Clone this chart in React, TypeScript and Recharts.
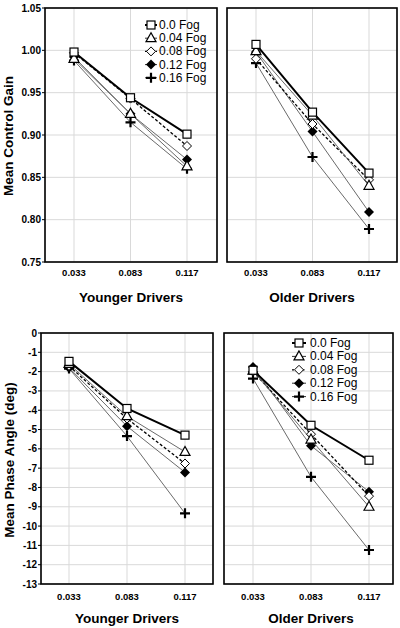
import { LineChart, Line, XAxis, YAxis, CartesianGrid } from "recharts";

const speeds = ["0.033", "0.083", "0.117"];
const fogLevels = ["0.0 Fog", "0.04 Fog", "0.08 Fog", "0.12 Fog", "0.16 Fog"];

// rows follow fogLevels, columns follow speeds
const youngerGain = [
  [0.998, 0.944, 0.901],
  [0.99, 0.925, 0.863],
  [0.997, 0.943, 0.887],
  [0.992, 0.925, 0.871],
  [0.988, 0.915, 0.86],
];
const olderGain = [
  [1.007, 0.927, 0.855],
  [0.999, 0.923, 0.84],
  [0.99, 0.913, 0.847],
  [0.998, 0.904, 0.809],
  [0.985, 0.874, 0.789],
];
const youngerPhase = [
  [-1.47, -3.91, -5.29],
  [-1.6, -4.31, -6.16],
  [-1.7, -4.43, -6.76],
  [-1.8, -4.83, -7.22],
  [-1.84, -5.34, -9.34],
];
const olderPhase = [
  [-1.93, -4.78, -6.59],
  [-1.95, -5.52, -9.0],
  [-2.0, -5.24, -8.45],
  [-1.76, -5.84, -8.22],
  [-2.36, -7.45, -11.24],
];

const gainTicks = [0.75, 0.8, 0.85, 0.9, 0.95, 1.0, 1.05];
const phaseTicks = [0, -1, -2, -3, -4, -5, -6, -7, -8, -9, -10, -11, -12, -13];

const FONT = "'Liberation Sans', Arial, sans-serif";

const seriesStyle = [
  { stroke: "#000", width: 2, dash: undefined, shape: "square" },
  { stroke: "#6a6a6a", width: 1, dash: undefined, shape: "triangle" },
  { stroke: "#000", width: 1.3, dash: "3 2", shape: "diamondOpen" },
  { stroke: "#6a6a6a", width: 1, dash: undefined, shape: "diamond" },
  { stroke: "#6a6a6a", width: 1, dash: undefined, shape: "plus" },
];

const buildRows = (values: number[][]) =>
  speeds.map((s, i) => {
    const row: any = { speed: s };
    values.forEach((v, k) => (row["f" + k] = v[i]));
    return row;
  });

const Marker = ({ shape, cx, cy }: { shape: string; cx: number; cy: number }) => {
  if (cx == null || cy == null) return null;
  switch (shape) {
    case "square":
      return <rect x={cx - 4} y={cy - 4} width={8} height={8} fill="#fff" stroke="#000" strokeWidth={1.2} />;
    case "triangle":
      return (
        <polygon
          points={`${cx},${cy - 5.5} ${cx - 5},${cy + 3.5} ${cx + 5},${cy + 3.5}`}
          fill="#fff"
          stroke="#000"
          strokeWidth={1.2}
        />
      );
    case "diamondOpen":
      return (
        <polygon
          points={`${cx},${cy - 4.5} ${cx + 4.5},${cy} ${cx},${cy + 4.5} ${cx - 4.5},${cy}`}
          fill="#fff"
          stroke="#000"
          strokeWidth={1}
        />
      );
    case "diamond":
      return (
        <polygon
          points={`${cx},${cy - 5} ${cx + 5},${cy} ${cx},${cy + 5} ${cx - 5},${cy}`}
          fill="#000"
        />
      );
    default:
      return <path d={`M${cx - 5},${cy}H${cx + 5}M${cx},${cy - 5}V${cy + 5}`} stroke="#000" strokeWidth={2.2} />;
  }
};

interface PanelProps {
  values: number[][];
  ticks: number[];
  fmt: (v: number) => string;
  left: number;
  top: number;
  width: number;
  height: number;
  margin: { top: number; right: number; left: number; bottom: number };
  yWidth: number;
  xHeight: number;
  padding: { left: number; right: number };
  xTickMargin: number;
}

const Panel = (p: PanelProps) => {
  const data = buildRows(p.values);
  const lo = Math.min(...p.ticks);
  const hi = Math.max(...p.ticks);
  return (
    <div style={{ position: "absolute", left: p.left, top: p.top }}>
      <LineChart width={p.width} height={p.height} data={data} margin={p.margin}>
        <CartesianGrid stroke="#d9d9d9" strokeWidth={1} />
        <XAxis
          dataKey="speed"
          scale="point"
          padding={p.padding}
          height={p.xHeight}
          axisLine={false}
          tickLine={false}
          tickSize={0}
          tickMargin={p.xTickMargin}
          tick={{ fontSize: 9.5, fontWeight: 700, fill: "#000", fontFamily: FONT }}
        />
        <YAxis
          type="number"
          domain={[lo, hi]}
          ticks={p.ticks}
          interval={0}
          width={p.yWidth}
          hide={p.yWidth === 0}
          axisLine={false}
          tickLine={{ stroke: "#000" }}
          tickSize={3}
          tickMargin={1}
          tickFormatter={p.fmt}
          tick={{ fontSize: 10, fontWeight: 700, fill: "#000", fontFamily: FONT }}
        />
        {[4, 3, 2, 1, 0].map((k) => {
          const st = seriesStyle[k];
          return (
            <Line
              key={k}
              dataKey={"f" + k}
              name={fogLevels[k]}
              type="linear"
              stroke={st.stroke}
              strokeWidth={st.width}
              strokeDasharray={st.dash}
              isAnimationActive={false}
              activeDot={false}
              dot={(d: any) => <Marker key={`${k}-${d.index}`} shape={st.shape} cx={d.cx} cy={d.cy} />}
            />
          );
        })}
      </LineChart>
    </div>
  );
};

const LegendBox = ({ x, y, x2, tx, step }: { x: number; y: number; x2: number; tx: number; step: number }) => (
  <g>
    {fogLevels.map((name, k) => {
      const st = seriesStyle[k];
      const cy = y + k * step;
      const cx = (x + x2) / 2;
      return (
        <g key={name}>
          <line x1={x} x2={x2} y1={cy} y2={cy} stroke={st.stroke === "#000" ? "#000" : "#333"} strokeWidth={st.width} strokeDasharray={st.dash ? "2 1.5" : undefined} />
          <Marker shape={st.shape} cx={cx} cy={cy} />
          <text x={tx} y={cy} dominantBaseline="central" fontSize={12} fill="#000" fontFamily={FONT}>
            {name}
          </text>
        </g>
      );
    })}
  </g>
);

const App = () => {
  const fmtGain = (v: number) => v.toFixed(2);
  const fmtPhase = (v: number) => String(v);
  const labelStyle = { fontSize: 13.5, fontWeight: 700, fill: "#000", fontFamily: FONT };
  return (
    <div style={{ position: "absolute", left: 0, top: 0, width: 400, height: 628, background: "#fff", fontFamily: FONT }}>
      <Panel
        values={youngerGain}
        ticks={gainTicks}
        fmt={fmtGain}
        left={0}
        top={0}
        width={220}
        height={290}
        margin={{ top: 8, right: 3, left: 0, bottom: 0 }}
        yWidth={45}
        xHeight={28}
        padding={{ left: 29, right: 30 }}
        xTickMargin={7}
      />
      <Panel
        values={olderGain}
        ticks={gainTicks}
        fmt={fmtGain}
        left={200}
        top={0}
        width={200}
        height={290}
        margin={{ top: 8, right: 3, left: 27, bottom: 0 }}
        yWidth={0}
        xHeight={28}
        padding={{ left: 29, right: 28 }}
        xTickMargin={7}
      />
      <Panel
        values={youngerPhase}
        ticks={phaseTicks}
        fmt={fmtPhase}
        left={0}
        top={310}
        width={216}
        height={300}
        margin={{ top: 23, right: 3, left: 0, bottom: 0 }}
        yWidth={41}
        xHeight={26}
        padding={{ left: 28, right: 28 }}
        xTickMargin={9}
      />
      <Panel
        values={olderPhase}
        ticks={phaseTicks}
        fmt={fmtPhase}
        left={200}
        top={310}
        width={196}
        height={300}
        margin={{ top: 23, right: 3, left: 24, bottom: 0 }}
        yWidth={0}
        xHeight={26}
        padding={{ left: 29, right: 24 }}
        xTickMargin={9}
      />
      <svg width={400} height={628} style={{ position: "absolute", left: 0, top: 0, pointerEvents: "none" }}>
        <g fill="none" stroke="#000" strokeWidth={1.6}>
          <rect x={45} y={8} width={172} height={254} />
          <rect x={227} y={8} width={170} height={254} />
          <rect x={41} y={333} width={172} height={251} />
          <rect x={224} y={333} width={169} height={251} />
        </g>
        <text x={8} y={136} transform="rotate(-90 8 136)" textAnchor="middle" dominantBaseline="central" {...labelStyle}>
          Mean Control Gain
        </text>
        <text x={9} y={460} transform="rotate(-90 9 460)" textAnchor="middle" dominantBaseline="central" {...labelStyle}>
          Mean Phase Angle (deg)
        </text>
        <text x={131} y={297} textAnchor="middle" dominantBaseline="central" {...labelStyle}>
          Younger Drivers
        </text>
        <text x={312} y={297} textAnchor="middle" dominantBaseline="central" {...labelStyle}>
          Older Drivers
        </text>
        <text x={127} y={618} textAnchor="middle" dominantBaseline="central" {...labelStyle}>
          Younger Drivers
        </text>
        <text x={311} y={618} textAnchor="middle" dominantBaseline="central" {...labelStyle}>
          Older Drivers
        </text>
        <LegendBox x={145} x2={157} tx={159} y={25} step={13.2} />
        <LegendBox x={292} x2={306} tx={310} y={343} step={13.4} />
      </svg>
    </div>
  );
};

export default App;
